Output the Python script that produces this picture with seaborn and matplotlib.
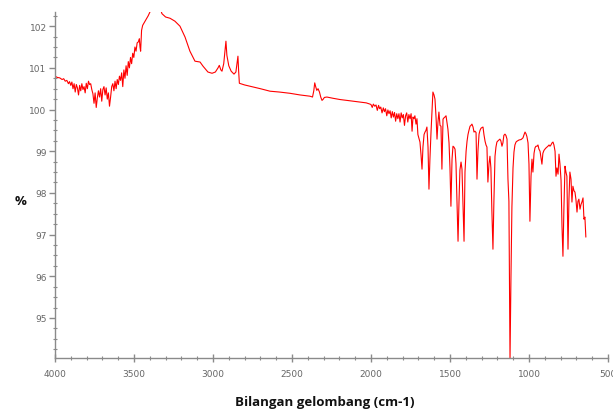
import numpy as np
import pandas as pd
import matplotlib
matplotlib.use("Agg")
import matplotlib.pyplot as plt
from matplotlib import font_manager
from matplotlib.ticker import MultipleLocator
import seaborn as sns

# FTIR spectrum: wavenumber (cm-1) and transmittance (%)
wavenumber = [
    4000, 3985, 3970, 3955, 3945, 3935, 3925, 3915, 3908, 3900, 3893, 3886,
    3879, 3872, 3865, 3858, 3851, 3844, 3837, 3830, 3823, 3816, 3809, 3802,
    3795, 3788, 3781, 3774, 3767, 3760, 3753, 3746, 3739, 3732, 3725, 3718,
    3711, 3704, 3697, 3690, 3683, 3676, 3669, 3662, 3655, 3648, 3641, 3634,
    3627, 3620, 3613, 3606, 3599, 3592, 3585, 3578, 3571, 3564, 3557, 3550,
    3543, 3536, 3529, 3522, 3515, 3508, 3501, 3494, 3487, 3480, 3473, 3466,
    3462, 3458, 3452, 3445, 3430, 3410, 3399, 3385, 3340, 3323, 3300, 3272,
    3241, 3209, 3177, 3146, 3114, 3082, 3063, 3032, 3006, 2985, 2968, 2960,
    2950, 2943, 2932, 2924, 2918, 2912, 2900, 2885, 2867, 2855, 2848, 2842,
    2838, 2833, 2800, 2766, 2700, 2639, 2580, 2513, 2449, 2386, 2370, 2362,
    2356, 2350, 2343, 2335, 2326, 2318, 2310, 2304, 2295, 2279, 2240, 2196,
    2133, 2070, 2030, 2006,
    2000, 1992, 1985, 1976, 1968, 1960, 1952, 1945, 1938, 1930, 1922, 1915,
    1908, 1900, 1893, 1886, 1879, 1872, 1865, 1858, 1851, 1844, 1837, 1830,
    1823, 1816, 1809, 1802, 1795, 1788, 1781, 1774, 1767, 1760, 1753, 1746,
    1740, 1734, 1728, 1722, 1715, 1709, 1703, 1696, 1690, 1683, 1677, 1671,
    1664, 1658, 1652, 1646, 1639, 1633, 1627, 1620, 1614, 1608, 1601, 1595,
    1588, 1582, 1576, 1570, 1563, 1557, 1551, 1544, 1538, 1532, 1525, 1519,
    1513, 1506, 1500, 1494, 1487, 1481, 1475, 1468, 1462, 1456, 1449, 1443,
    1437, 1430, 1424, 1418, 1411, 1405, 1398, 1392, 1386, 1380, 1373, 1367,
    1361, 1354, 1348, 1342, 1335, 1329, 1323, 1316, 1310, 1304, 1297, 1291,
    1285, 1278, 1272, 1266, 1260, 1253, 1247, 1241, 1235, 1228, 1222, 1215,
    1209, 1203, 1196, 1190, 1184, 1178, 1171, 1165, 1159, 1152, 1146, 1139,
    1133, 1127, 1120, 1114, 1108, 1101, 1095, 1089, 1082, 1076, 1063, 1050,
    1038, 1031, 1025, 1019, 1013, 1006, 1000, 994, 987, 981, 975, 968,
    962, 956, 949, 943, 937, 930, 924, 918, 912, 905, 899, 892,
    886, 880, 873, 867, 861, 854, 848, 842, 835, 829, 823, 816,
    810, 804, 797, 791, 785, 779, 772, 766, 760, 753, 747, 741,
    734, 728, 722, 715, 709, 703, 696, 690, 684, 677, 671, 665,
    658, 652, 646, 640,
]

transmittance = [
    100.80, 100.77, 100.76, 100.72, 100.74, 100.68, 100.70, 100.62, 100.67, 100.58, 100.66, 100.50,
    100.62, 100.42, 100.60, 100.52, 100.35, 100.58, 100.45, 100.62, 100.48, 100.55, 100.40, 100.63,
    100.50, 100.68, 100.60, 100.62, 100.48, 100.38, 100.15, 100.40, 100.05, 100.28, 100.45, 100.30,
    100.50, 100.20, 100.48, 100.55, 100.35, 100.52, 100.25, 100.40, 100.08, 100.30, 100.55, 100.62,
    100.45, 100.68, 100.50, 100.72, 100.60, 100.80, 100.70, 100.88, 100.55, 100.95, 100.75, 101.05,
    100.82, 101.15, 101.00, 101.25, 101.10, 101.35, 101.25, 101.50, 101.40, 101.60, 101.62, 101.70,
    101.50, 101.40, 101.90, 102.02, 102.12, 102.25, 102.34, 102.50, 102.50, 102.30, 102.22, 102.19,
    102.12, 102.00, 101.74, 101.40, 101.16, 101.14, 101.04, 100.90, 100.87, 100.90, 101.00, 101.06,
    100.95, 100.92, 101.10, 101.40, 101.64, 101.30, 101.05, 100.92, 100.85, 100.90, 101.10, 101.28,
    100.95, 100.63, 100.59, 100.56, 100.50, 100.44, 100.42, 100.39, 100.35, 100.32, 100.30, 100.45,
    100.64, 100.55, 100.46, 100.50, 100.42, 100.30, 100.22, 100.24, 100.29, 100.30, 100.27, 100.24,
    100.21, 100.18, 100.16, 100.13,
    100.12, 100.05, 100.13, 100.08, 100.11, 99.98, 100.10, 100.02, 100.06, 99.92, 100.04, 99.95,
    100.02, 99.85, 99.99, 99.90, 99.97, 99.80, 99.95, 99.82, 99.93, 99.72, 99.90, 99.78,
    99.90, 99.70, 99.92, 99.80, 99.88, 99.62, 99.85, 99.92, 99.70, 99.88, 99.78, 99.90,
    99.48, 99.82, 99.78, 99.85, 99.65, 99.78, 99.40, 99.30, 99.22, 98.90, 98.57, 99.10,
    99.40, 99.46, 99.50, 99.58, 99.10, 98.09, 98.80, 99.46, 99.95, 100.42, 100.35, 100.25,
    99.80, 99.29, 99.70, 99.94, 99.62, 99.60, 98.57, 99.77, 99.80, 99.82, 99.85, 99.70,
    99.53, 99.20, 98.60, 97.68, 98.81, 99.12, 99.10, 99.05, 98.70, 97.85, 96.84, 97.78,
    98.55, 98.74, 98.57, 97.80, 96.84, 98.50, 99.00, 99.24, 99.40, 99.50, 99.60, 99.62,
    99.65, 99.58, 99.46, 99.48, 99.45, 98.33, 99.00, 99.41, 99.50, 99.55, 99.57, 99.58,
    99.40, 99.24, 99.15, 99.10, 98.26, 98.70, 98.88, 98.60, 97.60, 96.65, 97.80, 98.88,
    99.10, 99.22, 99.25, 99.27, 99.29, 99.25, 99.12, 99.20, 99.38, 99.41, 99.38, 99.29,
    98.33, 97.80, 94.00, 95.98, 97.66, 98.60, 98.98, 99.15, 99.22, 99.24, 99.27, 99.28,
    99.32, 99.40, 99.46, 99.42, 99.35, 99.20, 98.69, 97.32, 98.40, 98.81, 98.50, 98.95,
    99.08, 99.12, 99.12, 99.15, 99.05, 99.00, 98.85, 98.69, 98.95, 99.02, 99.05, 99.08,
    99.10, 99.12, 99.15, 99.12, 99.15, 99.20, 99.22, 99.15, 99.00, 98.40, 98.60, 98.45,
    98.93, 98.70, 98.30, 97.20, 96.48, 97.61, 98.64, 98.50, 98.40, 96.65, 97.85, 98.50,
    98.33, 97.78, 98.16, 98.05, 98.02, 97.85, 97.54, 97.80, 97.85, 97.61, 97.72, 97.78,
    97.88, 97.37, 97.42, 96.94,
]

x_ticks = [4000, 3500, 3000, 2500, 2000, 1500, 1000, 500]
y_ticks = [95, 96, 97, 98, 99, 100, 101, 102]

sns.set_style("ticks")

installed = {f.name for f in font_manager.fontManager.ttflist}
tick_family = ["Liberation Sans Narrow", "DejaVu Sans"] if "Liberation Sans Narrow" in installed else ["DejaVu Sans"]
tick_size = 7.5 if "Liberation Sans Narrow" in installed else 6.5

df = pd.DataFrame({"wn": wavenumber, "T": transmittance})

fig = plt.figure(figsize=(6.13, 4.14), dpi=100)
ax = fig.add_axes([0.0897, 0.1329, 0.9021, 0.8357])

sns.lineplot(data=df, x="wn", y="T", color="#ff0000", linewidth=0.8,
             estimator=None, sort=True, ax=ax)

ax.set_xlim(4000, 500)
ax.set_ylim(94.04, 102.34)
ax.set_xticks(x_ticks)
ax.set_yticks(y_ticks)
ax.xaxis.set_minor_locator(MultipleLocator(100))
ax.yaxis.set_minor_locator(MultipleLocator(0.25))

for side in ("top", "right"):
    ax.spines[side].set_visible(False)
for side in ("left", "bottom"):
    ax.spines[side].set_color("#8a8a8a")
    ax.spines[side].set_linewidth(1.0)

ax.tick_params(axis="both", which="major", colors="#8a8a8a", labelcolor="#666666",
               labelsize=tick_size, width=1.0)
ax.tick_params(axis="y", which="major", direction="out", length=4, pad=2)
ax.tick_params(axis="x", which="major", direction="inout", length=6, pad=5)
ax.tick_params(axis="both", which="minor", direction="inout", length=3,
               width=0.8, colors="#8a8a8a")
for lab in ax.get_xticklabels() + ax.get_yticklabels():
    lab.set_family(tick_family)

ax.set_xlabel("Bilangan gelombang (cm-1)", fontsize=9.5, fontweight="bold",
              family=["Open Sans", "DejaVu Sans"], color="#111111")
ax.xaxis.set_label_coords(0.488, -0.127)
ax.xaxis.label.set_verticalalignment("center")
ax.set_ylabel("%", fontsize=9.5, fontweight="bold", rotation=0,
              family=["Open Sans", "DejaVu Sans"], color="#111111")
ax.yaxis.set_label_coords(-0.063, 0.454)
ax.yaxis.label.set_verticalalignment("center")
ax.yaxis.label.set_horizontalalignment("center")

fig.savefig("out.png", dpi=100, facecolor="white")
